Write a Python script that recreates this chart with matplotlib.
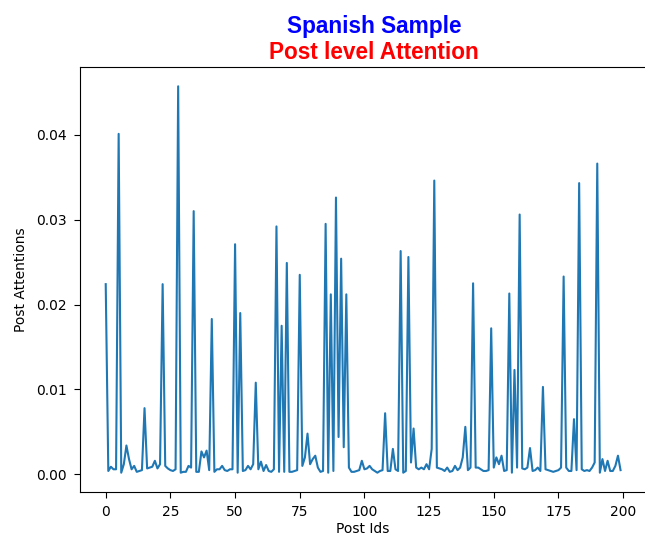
import matplotlib
matplotlib.use("Agg")
import matplotlib.pyplot as plt

# attention weight per post
post_attentions = [
    0.0224, 0.0004, 0.0009, 0.0006, 0.0006, 0.0401, 0.0002, 0.0012, 0.0034, 0.0018,
    0.0006, 0.0010, 0.0003, 0.0004, 0.0005, 0.0078, 0.0007, 0.0008, 0.0009, 0.0016,
    0.0007, 0.0012, 0.0224, 0.0010, 0.0007, 0.0005, 0.0004, 0.0006, 0.0457, 0.0002,
    0.0003, 0.0003, 0.0010, 0.0008, 0.0310, 0.0003, 0.0003, 0.0027, 0.0020, 0.0028,
    0.0005, 0.0183, 0.0003, 0.0006, 0.0006, 0.0010, 0.0005, 0.0004, 0.0006, 0.0006,
    0.0271, 0.0002, 0.0190, 0.0004, 0.0005, 0.0010, 0.0006, 0.0012, 0.0108, 0.0006,
    0.0015, 0.0004, 0.0011, 0.0004, 0.0003, 0.0006, 0.0292, 0.0003, 0.0175, 0.0003,
    0.0249, 0.0003, 0.0003, 0.0004, 0.0005, 0.0235, 0.0010, 0.0020, 0.0048, 0.0012,
    0.0018, 0.0022, 0.0008, 0.0003, 0.0004, 0.0295, 0.0002, 0.0212, 0.0004, 0.0326,
    0.0044, 0.0254, 0.0032, 0.0212, 0.0008, 0.0003, 0.0003, 0.0004, 0.0005, 0.0016,
    0.0006, 0.0007, 0.0010, 0.0006, 0.0004, 0.0002, 0.0004, 0.0005, 0.0072, 0.0004,
    0.0004, 0.0030, 0.0006, 0.0004, 0.0263, 0.0002, 0.0004, 0.0256, 0.0014, 0.0054,
    0.0008, 0.0006, 0.0008, 0.0006, 0.0012, 0.0006, 0.0030, 0.0346, 0.0008, 0.0007,
    0.0006, 0.0004, 0.0008, 0.0003, 0.0004, 0.0010, 0.0005, 0.0008, 0.0020, 0.0056,
    0.0005, 0.0008, 0.0225, 0.0008, 0.0008, 0.0006, 0.0004, 0.0004, 0.0005, 0.0172,
    0.0008, 0.0020, 0.0012, 0.0022, 0.0004, 0.0005, 0.0213, 0.0002, 0.0123, 0.0008,
    0.0306, 0.0007, 0.0006, 0.0008, 0.0031, 0.0004, 0.0005, 0.0008, 0.0004, 0.0103,
    0.0006, 0.0005, 0.0004, 0.0003, 0.0004, 0.0005, 0.0008, 0.0233, 0.0008, 0.0004,
    0.0004, 0.0065, 0.0005, 0.0343, 0.0006, 0.0004, 0.0005, 0.0004, 0.0008, 0.0014,
    0.0366, 0.0002, 0.0018, 0.0004, 0.0016, 0.0004, 0.0004, 0.0010, 0.0022, 0.0005,
]
post_ids = list(range(len(post_attentions)))

fig = plt.figure(figsize=(6.45, 5.38), dpi=100)
ax = fig.add_axes([0.124, 0.0855, 0.878, 0.79])

ax.plot(post_ids, post_attentions, color='#1f77b4', linewidth=1.5)
ax.set_xticks([0, 25, 50, 75, 100, 125, 150, 175, 200])
ax.set_yticks([0.0, 0.01, 0.02, 0.03, 0.04])
ax.tick_params(labelsize=10, length=4.5, pad=5)
ax.set_xlabel("Post Ids", fontsize=10, labelpad=2)
ax.set_ylabel("Post Attentions", fontsize=10, labelpad=6)

# two-colour title
fig.text(0.581, 0.9395, "Spanish Sample", color='blue', fontsize=16.3, fontweight='bold',
         family='Liberation Sans', ha='center', va='baseline')
fig.text(0.580, 0.8895, "Post level Attention", color='red', fontsize=16.3, fontweight='bold',
         family='Liberation Sans', ha='center', va='baseline')

fig.savefig("out.png", dpi=100)
